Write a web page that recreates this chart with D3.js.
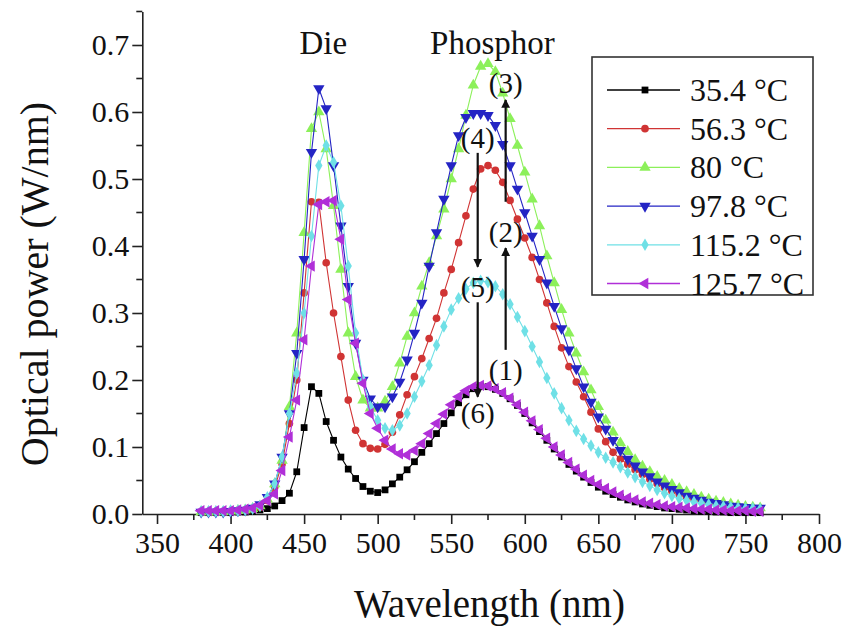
<!DOCTYPE html>
<html lang="en">
<head>
<meta charset="UTF-8">
<title>Optical power spectra</title>
<script src="https://cdn.jsdelivr.net/npm/d3@7"></script>
<style>
    body { margin: 0; background: #fff; }
    svg text { font-family: "Liberation Serif", "Times New Roman", serif; fill: #111; }
    .series { fill: none; stroke-width: 1.1px; }
</style>
</head>
<body>
<div id="chart"></div>
<script>

// wavelength samples (nm)
var wavelength = [
    380,385,390,395,400,405,410,415,420,425,
    430,435,440,445,450,455,460,465,470,475,
    480,485,490,495,500,505,510,515,520,525,
    530,535,540,545,550,555,560,565,570,575,
    580,585,590,595,600,605,610,615,620,625,
    630,635,640,645,650,655,660,665,670,675,
    680,685,690,695,700,705,710,715,720,725,
    730,735,740,745,750,755,760];

// optical power (W/nm), one array per junction temperature
var p35 = [
    .002,.002,.002,.002,.002,.003,.003,.004,.006,.008,
    .012,.02,.031,.063,.129,.19,.18,.138,.11,.085,
    .067,.053,.041,.034,.032,.036,.045,.055,.066,.078,
    .092,.105,.12,.135,.151,.166,.178,.187,.191,.19,
    .186,.18,.172,.162,.15,.136,.123,.11,.097,.085,
    .074,.064,.055,.047,.04,.034,.029,.025,.021,.018,
    .015,.013,.011,.009,.008,.007,.006,.005,.004,.004,
    .003,.003,.002,.002,.002,.002,.002];
var p56 = [
    .003,.003,.003,.003,.004,.004,.005,.007,.01,.02,
    .04,.075,.135,.2,.33,.466,.465,.375,.3,.235,
    .17,.125,.105,.098,.097,.104,.122,.148,.178,.205,
    .232,.262,.292,.33,.365,.405,.445,.485,.515,.52,
    .513,.495,.468,.44,.412,.383,.35,.315,.28,.248,
    .22,.197,.175,.152,.127,.108,.092,.082,.074,.066,
    .059,.052,.045,.039,.034,.029,.025,.022,.019,.017,
    .015,.013,.012,.011,.01,.009,.008];
var p80 = [
    .003,.003,.003,.003,.004,.005,.006,.008,.012,.022,
    .045,.08,.16,.27,.42,.575,.6,.545,.46,.365,
    .27,.205,.17,.158,.158,.168,.19,.225,.265,.3,
    .34,.375,.415,.455,.5,.545,.595,.64,.668,.672,
    .66,.628,.59,.55,.51,.47,.43,.385,.345,.305,
    .27,.24,.212,.185,.16,.14,.122,.106,.093,.081,
    .071,.063,.056,.05,.044,.038,.033,.029,.025,.022,
    .019,.017,.015,.013,.011,.01,.009];
var p97 = [
    .003,.003,.003,.003,.004,.005,.006,.009,.014,.025,
    .045,.085,.15,.24,.38,.54,.635,.605,.52,.43,
    .34,.255,.2,.172,.16,.16,.175,.197,.23,.27,
    .315,.37,.42,.47,.52,.565,.592,.598,.598,.595,
    .58,.552,.52,.485,.45,.415,.38,.345,.31,.277,
    .245,.217,.19,.167,.145,.127,.11,.095,.082,.072,
    .063,.056,.048,.042,.037,.032,.027,.024,.021,.018,
    .016,.014,.012,.011,.01,.009,.009];
var p115 = [
    .004,.004,.004,.004,.005,.005,.006,.008,.012,.025,
    .045,.085,.15,.21,.3,.415,.52,.55,.525,.46,
    .37,.27,.2,.16,.14,.128,.125,.132,.15,.175,
    .198,.222,.252,.28,.305,.322,.336,.345,.348,.346,
    .34,.328,.313,.294,.273,.25,.227,.203,.18,.158,
    .14,.124,.112,.102,.092,.084,.077,.07,.062,.055,
    .048,.042,.036,.031,.027,.023,.02,.018,.016,.014,
    .012,.011,.01,.009,.008,.008,.007];
var p125 = [
    .005,.005,.005,.005,.005,.006,.007,.009,.013,.02,
    .03,.065,.115,.17,.26,.37,.462,.466,.468,.41,
    .32,.255,.195,.15,.128,.11,.097,.09,.088,.095,
    .105,.12,.135,.149,.163,.175,.184,.19,.192,.191,
    .187,.181,.173,.163,.152,.139,.126,.113,.1,.088,
    .077,.067,.058,.05,.044,.038,.033,.028,.024,.021,
    .018,.016,.014,.012,.011,.01,.009,.008,.007,.007,
    .006,.006,.005,.005,.005,.004,.004];

var seriesNames = ["35.4 °C", "56.3 °C", "80 °C", "97.8 °C", "115.2 °C", "125.7 °C"];
var seriesColors = ["#000000", "#d03434", "#8cf05a", "#2424c4", "#6fe0e6", "#b02fd8"];

var xTicks = [350, 400, 450, 500, 550, 600, 650, 700, 750, 800];
var yTicks = [0, 0.1, 0.2, 0.3, 0.4, 0.5, 0.6, 0.7];

// text notes and arrows, in data units
var noteText = ["Die", "Phosphor", "(3)", "(4)", "(2)", "(5)", "(1)", "(6)"];
var noteWl   = [463, 578, 587, 568, 587, 568, 587, 568];
var notePow  = [0.703, 0.703, 0.643, 0.561, 0.421, 0.339, 0.215, 0.151];
var arrowWl   = [587, 587, 568, 568];
var arrowFrom = [0.245, 0.466, 0.539, 0.316];
var arrowTo   = [0.397, 0.618, 0.369, 0.175];

var serif = "Liberation Serif, Times New Roman, serif";

/* canvas */
var width = 847, height = 628;
var svg = d3.select("#chart").append("svg")
    .attr("width", width)
    .attr("height", height)
    .attr("font-family", serif);

var x = d3.scaleLinear().domain([340, 800]).range([142.3, 819]);
var y = d3.scaleLinear().domain([0, 0.75]).range([514, 11.5]);

svg.append("defs").append("marker")
    .attr("id", "head")
    .attr("viewBox", "0 0 10 10")
    .attr("refX", 9).attr("refY", 5)
    .attr("markerWidth", 4).attr("markerHeight", 5.5)
    .attr("orient", "auto")
    .attr("markerUnits", "strokeWidth")
    .append("path")
    .attr("d", "M0,0 L10,5 L0,10 z")
    .attr("fill", "#111");

/* axes: major ticks labelled, minor ticks in between */
var xMinor = [375, 425, 475, 525, 575, 625, 675, 725, 775];
var yMinor = [0.05, 0.15, 0.25, 0.35, 0.45, 0.55, 0.65, 0.75];

var gx = svg.append("g")
    .attr("transform", "translate(0," + y(0) + ")")
    .call(d3.axisBottom(x).tickValues(xTicks).tickSize(10).tickSizeOuter(0).tickPadding(6));
gx.attr("font-family", serif).attr("font-size", 30);
gx.selectAll("text").attr("dy", "0.75em").attr("fill", "#111");
gx.append("g").selectAll("line")
    .data(xMinor)
    .enter().append("line")
    .attr("x1", function(d) { return x(d); })
    .attr("x2", function(d) { return x(d); })
    .attr("y1", 0).attr("y2", 6);
gx.selectAll(".domain, line").attr("stroke", "#222").attr("stroke-width", 1.6);

var gy = svg.append("g")
    .attr("transform", "translate(" + x(340) + ",0)")
    .call(d3.axisLeft(y).tickValues(yTicks).tickSize(10).tickSizeOuter(0).tickPadding(3)
        .tickFormat(d3.format(".1f")));
gy.attr("font-family", serif).attr("font-size", 30);
gy.selectAll("text").attr("fill", "#111");
gy.append("g").selectAll("line")
    .data(yMinor)
    .enter().append("line")
    .attr("y1", function(d) { return y(d); })
    .attr("y2", function(d) { return y(d); })
    .attr("x1", 0).attr("x2", -6);
gy.selectAll(".domain, line").attr("stroke", "#222").attr("stroke-width", 1.6);

svg.append("text")
    .attr("x", x(576)).attr("y", 617)
    .attr("text-anchor", "middle")
    .attr("font-size", 39)
    .text("Wavelength (nm)");

svg.append("text")
    .attr("transform", "translate(48,284) rotate(-90)")
    .attr("text-anchor", "middle")
    .attr("font-size", 40)
    .text("Optical power (W/nm)");

/* series */
var allSeries = [p35, p56, p80, p97, p115, p125];
var symbols = [
    {type: d3.symbolSquare, size: 46, rot: 0},
    {type: d3.symbolCircle, size: 46, rot: 0},
    {type: d3.symbolTriangle, size: 56, rot: 0},
    {type: d3.symbolTriangle, size: 56, rot: 180},
    {type: d3.symbolDiamond, size: 46, rot: 0},
    {type: d3.symbolTriangle, size: 56, rot: -90}
];

var line = d3.line()
    .x(function(d) { return x(d[0]); })
    .y(function(d) { return y(d[1]); });

allSeries.forEach(function(vals, i) {
    var pts = wavelength.map(function(w, j) { return [w, vals[j]]; });
    var g = svg.append("g");
    g.append("path")
        .datum(pts)
        .attr("class", "series")
        .attr("stroke", seriesColors[i])
        .attr("d", line);
    g.selectAll("path.pt")
        .data(pts)
        .enter().append("path")
        .attr("class", "pt")
        .attr("fill", seriesColors[i])
        .attr("d", d3.symbol().type(symbols[i].type).size(symbols[i].size))
        .attr("transform", function(d) {
            return "translate(" + x(d[0]) + "," + y(d[1]) + ") rotate(" + symbols[i].rot + ")";
        });
});

/* notes and arrows */
noteText.forEach(function(t, i) {
    svg.append("text")
        .attr("x", x(noteWl[i]))
        .attr("y", y(notePow[i]))
        .attr("text-anchor", "middle")
        .attr("dominant-baseline", "central")
        .attr("font-size", i < 2 ? 33 : 29)
        .text(t);
});

arrowWl.forEach(function(w, i) {
    svg.append("line")
        .attr("x1", x(w)).attr("x2", x(w))
        .attr("y1", y(arrowFrom[i])).attr("y2", y(arrowTo[i]))
        .attr("stroke", "#111")
        .attr("stroke-width", 2.2)
        .attr("marker-end", "url(#head)");
});

/* legend */
var legend = svg.append("g").attr("transform", "translate(592,57)");
legend.append("rect")
    .attr("width", 221).attr("height", 238)
    .attr("fill", "#fff")
    .attr("stroke", "#333")
    .attr("stroke-width", 1.6);

seriesNames.forEach(function(name, i) {
    var row = legend.append("g").attr("transform", "translate(0," + (33 + i * 38.7) + ")");
    row.append("line")
        .attr("x1", 15).attr("x2", 88)
        .attr("stroke", seriesColors[i])
        .attr("stroke-width", 1.3);
    row.append("path")
        .attr("fill", seriesColors[i])
        .attr("d", d3.symbol().type(symbols[i].type).size(symbols[i].size))
        .attr("transform", "translate(53,0) rotate(" + symbols[i].rot + ")");
    row.append("text")
        .attr("x", 98)
        .attr("dominant-baseline", "central")
        .attr("font-size", 32)
        .text(name);
});

</script>
</body>
</html>
